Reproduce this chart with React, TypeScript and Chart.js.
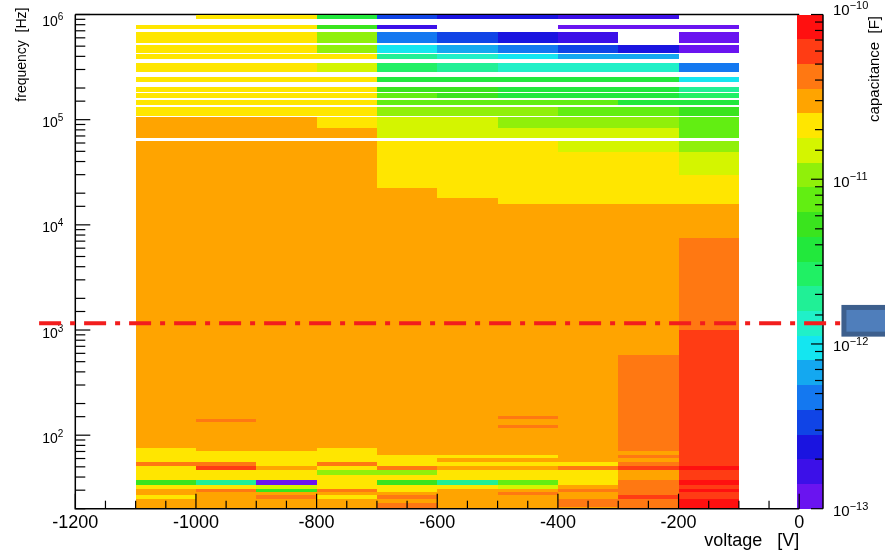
import React, { useEffect, useRef } from 'react';
import { Chart, registerables } from 'chart.js';

Chart.register(...registerables);

const FONT = '"Liberation Sans", Arial, Helvetica, sans-serif';

// ---- data ----
// voltage bin edges [V]
const voltageEdges = [-1100, -1000, -900, -800, -700, -600, -500, -400, -300, -200, -100];

// frequency bins [Hz], listed from top to bottom
const freqHigh = [
  1000000, 800000, 686000, 516000, 418000, 344000, 256000, 206000, 178000, 154000, 131000, 105000, 83400,
  62700, 49600, 29800, 22600, 18100, 15800, 7500, 1000, 580, 152, 143, 134, 125, 117,
  75.5, 70.7, 64.8, 60.7, 55.6, 50.9, 46.7, 41.8, 37.5, 33.6, 30.8, 28.8, 27.0, 24.7, 22.7, 20.8,
];
const freqLow = [
  900000, 730000, 540000, 433000, 375000, 286000, 230000, 185000, 160000, 138000, 108000, 83400, 66600,
  49600, 29800, 22600, 18100, 15800, 7500, 1000, 580, 152, 143, 134, 125, 117, 75.5,
  70.7, 64.8, 60.7, 55.6, 50.9, 46.7, 41.8, 37.5, 33.6, 30.8, 28.8, 27.0, 24.7, 22.7, 20.8, 20,
];

// capacitance [pF] per voltage bin (null = no entry)
const capAtM1050 = [
  null, 21, 21, 21, 21, 21, 21, 21, 21, 21, 21, 30, 30,
  30, 30, 30, 30, 30, 30, 30, 30, 30, 30, 30, 30, 30, 30,
  21, 21, 21, 21, 42, 21, 21, 21, 5.3, 21, 30, 30, 21, 30, 30, 30,
];
const capAtM950 = [
  21, 21, 21, 21, 21, 21, 21, 21, 21, 21, 21, 30, 30,
  30, 30, 30, 30, 30, 30, 30, 30, 30, 30, 42, 30, 30, 30,
  30, 21, 21, 21, 42, 60, 21, 21, 1.9, 21, 42, 30, 30, 30, 30, 30,
];
const capAtM850 = [
  21, 21, 21, 21, 21, 21, 21, 21, 21, 21, 21, 30, 30,
  30, 30, 30, 30, 30, 30, 30, 30, 30, 30, 30, 30, 30, 30,
  30, 21, 21, 21, 21, 30, 21, 21, 0.12, 15, 5.3, 30, 42, 30, 30, 30,
];
const capAtM750 = [
  3.8, 5.3, 10.6, 10.6, 21, 15, 21, 21, 21, 21, 21, 21, 30,
  30, 30, 30, 30, 30, 30, 30, 30, 30, 30, 30, 30, 30, 30,
  21, 21, 21, 21, 42, 21, 10.6, 21, 21, 21, 42, 30, 21, 30, 30, 30,
];
const capAtM650 = [
  0.33, 0.17, 0.47, 0.94, 1.9, 2.7, 3.8, 5.3, 7.5, 7.5, 10.6, 15, 15,
  21, 21, 21, 30, 30, 30, 30, 30, 30, 30, 30, 30, 30, 30,
  30, 30, 21, 21, 21, 42, 10.6, 21, 5.3, 21, 21, 30, 42, 30, 42, 42,
];
const capAtM550 = [
  0.24, null, 0.33, 0.67, 1.33, 1.9, 3.8, 5.3, 5.3, 7.5, 10.6, 15, 15,
  21, 21, 21, 21, 30, 30, 30, 30, 30, 30, 30, 30, 30, 30,
  30, 30, 21, 30, 21, 30, 21, 21, 1.9, 21, 30, 30, 30, 30, 30, 30,
];
const capAtM450 = [
  0.24, null, 0.24, 0.47, 0.94, 1.33, 3.8, 3.8, 3.8, 7.5, 10.6, 10.6, 15,
  21, 21, 21, 21, 21, 30, 30, 30, 30, 42, 30, 30, 42, 30,
  30, 30, 21, 30, 21, 30, 21, 21, 7.5, 15, 30, 42, 30, 30, 30, 30,
];
const capAtM350 = [
  0.17, 0.12, 0.17, 0.33, 0.67, 1.33, 3.8, 3.8, 3.8, 7.5, 7.5, 10.6, 15,
  15, 21, 21, 21, 21, 30, 30, 30, 30, 30, 30, 30, 30, 30,
  30, 30, 30, 30, 21, 42, 21, 21, 21, 30, 42, 30, 30, 42, 42, 30,
];
const capAtM250 = [
  0.17, 0.12, null, 0.24, 0.67, 1.33, 3.8, 3.8, 3.8, 3.8, 7.5, 10.6, 15,
  15, 21, 21, 21, 21, 30, 30, 30, 42, 42, 42, 42, 42, 42,
  42, 30, 42, 30, 42, 60, 30, 30, 42, 42, 42, 42, 60, 42, 42, 42,
];
const capAtM150 = [
  null, 0.12, 0.12, 0.12, null, 0.47, 0.94, 1.9, 2.7, 3.8, 5.3, 7.5, 7.5,
  10.6, 15, 21, 21, 21, 30, 42, 60, 60, 60, 60, 60, 60, 60,
  60, 60, 60, 60, 60, 84, 60, 60, 84, 60, 84, 60, 60, 84, 84, 84,
];
const capColumns = [
  capAtM1050, capAtM950, capAtM850, capAtM750, capAtM650,
  capAtM550, capAtM450, capAtM350, capAtM250, capAtM150,
];

// colour axis
const capMin = 1e-13;
const capMax = 1e-10;
const nContours = 20;
const palette = [
  '#6a14f0', '#3c10e8', '#1a14e0', '#1044e6', '#1478f0', '#14a8f0', '#14e6f0', '#20f0c8', '#20f096', '#20f064',
  '#22e83c', '#3ae41e', '#62ee12', '#90f00a', '#d4f500', '#ffe600', '#ffa400', '#ff7812', '#ff3c14', '#ff1010',
];

// annotation overlay (reference line + box)
const refLineFreq = 1160;
const refLineVolt = [-1260, 75];
const boxVolt = [70, 160];
const boxFreq = [1732, 865];

function colorFor(pF: number) {
  const lg = Math.log10(pF * 1e-12);
  const lo = Math.log10(capMin), hi = Math.log10(capMax);
  let b = Math.floor(((lg - lo) / (hi - lo)) * nContours);
  if (b < 0) b = 0;
  if (b > nContours - 1) b = nContours - 1;
  return palette[b];
}

function isPow10(v: number) {
  const l = Math.log10(v);
  return Math.abs(l - Math.round(l)) < 1e-6;
}

function drawPow(ctx: CanvasRenderingContext2D, exp: string, x: number, yb: number, baseSize: number, expSize: number, rise: number, alignRight: boolean) {
  ctx.font = `${baseSize}px ${FONT}`;
  const wb = ctx.measureText('10').width;
  ctx.font = `${expSize}px ${FONT}`;
  const we = ctx.measureText(exp).width;
  const x0 = alignRight ? x - wb - we : x;
  ctx.textAlign = 'left';
  ctx.textBaseline = 'alphabetic';
  ctx.font = `${baseSize}px ${FONT}`;
  ctx.fillText('10', x0, yb);
  ctx.font = `${expSize}px ${FONT}`;
  ctx.fillText(exp, x0 + wb, yb - rise);
}

const heatPlugin = {
  id: 'heat',
  beforeDatasetsDraw(chart: any) {
    const { ctx, chartArea, scales } = chart;
    const xs = scales.x, ys = scales.y, yc = scales.yc;
    ctx.save();
    // frame top line (painted over by cells)
    ctx.strokeStyle = '#000';
    ctx.lineWidth = 1.5;
    ctx.beginPath();
    ctx.moveTo(chartArea.left, chartArea.top);
    ctx.lineTo(chartArea.right, chartArea.top);
    ctx.stroke();
    // cells
    capColumns.forEach((col, i) => {
      const x0 = Math.round(xs.getPixelForValue(voltageEdges[i]));
      const x1 = Math.round(xs.getPixelForValue(voltageEdges[i + 1]));
      col.forEach((v, j) => {
        if (v == null) return;
        const y0 = Math.round(ys.getPixelForValue(freqHigh[j]));
        const y1 = Math.round(ys.getPixelForValue(freqLow[j]));
        ctx.fillStyle = colorFor(v);
        ctx.fillRect(x0, y0, x1 - x0, y1 - y0);
      });
    });
    // colour bar
    const bx0 = Math.round(yc.left - 2);
    const bx1 = Math.round(yc.left + 24);
    const lo = Math.log10(capMin), hi = Math.log10(capMax);
    for (let k = 0; k < nContours; k++) {
      const v0 = Math.pow(10, lo + ((hi - lo) * k) / nContours);
      const v1 = Math.pow(10, lo + ((hi - lo) * (k + 1)) / nContours);
      const py0 = Math.round(yc.getPixelForValue(v1));
      const py1 = Math.round(yc.getPixelForValue(v0));
      ctx.fillStyle = palette[k];
      ctx.fillRect(bx0, py0, bx1 - bx0, py1 - py0);
    }
    ctx.restore();
  },
  afterDraw(chart: any) {
    const { ctx, chartArea, scales } = chart;
    const xs = scales.x, ys = scales.y, yc = scales.yc;
    ctx.save();
    ctx.strokeStyle = '#000';
    ctx.fillStyle = '#000';
    ctx.lineWidth = 1.5;
    // axis lines
    ctx.beginPath();
    ctx.moveTo(chartArea.left, chartArea.top);
    ctx.lineTo(chartArea.left, chartArea.bottom);
    ctx.lineTo(chartArea.right, chartArea.bottom);
    ctx.stroke();
    // x ticks (inside)
    ctx.lineWidth = 1.2;
    xs.ticks.forEach((t: any) => {
      const px = xs.getPixelForValue(t.value);
      const len = t.value % 200 === 0 ? 15 : 8;
      ctx.beginPath();
      ctx.moveTo(px, chartArea.bottom);
      ctx.lineTo(px, chartArea.bottom - len);
      ctx.stroke();
    });
    // y ticks (inside) + labels
    ys.ticks.forEach((t: any) => {
      const py = ys.getPixelForValue(t.value);
      const major = isPow10(t.value);
      const len = major ? 15 : 10;
      ctx.beginPath();
      ctx.moveTo(chartArea.left, py);
      ctx.lineTo(chartArea.left + len, py);
      ctx.stroke();
      if (major) {
        const e = Math.round(Math.log10(t.value));
        const yb = Math.max(py + 7.6, chartArea.top + 11.5);
        drawPow(ctx, String(e), chartArea.left - 12, yb, 14, 10, 6, true);
      }
    });
    // colour bar axis
    const bx1 = Math.round(yc.left + 24);
    ctx.lineWidth = 1.5;
    ctx.beginPath();
    ctx.moveTo(bx1, yc.top);
    ctx.lineTo(bx1, yc.bottom);
    ctx.stroke();
    ctx.lineWidth = 1.2;
    yc.ticks.forEach((t: any) => {
      const py = yc.getPixelForValue(t.value);
      const major = isPow10(t.value);
      const len = major ? 12 : 8;
      ctx.beginPath();
      ctx.moveTo(bx1, py);
      ctx.lineTo(bx1 - len, py);
      ctx.stroke();
      if (major) {
        const e = Math.round(Math.log10(t.value));
        const yb = Math.abs(py - yc.top) < 1 ? py + 0.5 : py + 7.4;
        drawPow(ctx, String(e).replace('-', '\u2212'), bx1 + 10, yb, 15, 11, 6.5, false);
      }
    });
    // vertical titles
    ctx.textAlign = 'right';
    ctx.textBaseline = 'middle';
    ctx.save();
    ctx.translate(22, 7.5);
    ctx.rotate(-Math.PI / 2);
    ctx.font = `14px ${FONT}`;
    ctx.fillText('frequency  [Hz]', 0, 0);
    ctx.restore();
    ctx.save();
    ctx.translate(875, 16);
    ctx.rotate(-Math.PI / 2);
    ctx.font = `15px ${FONT}`;
    ctx.fillText('capacitance  [F]', 0, 0);
    ctx.restore();
    // overlay: dash-dot reference line
    const ly = ys.getPixelForValue(refLineFreq);
    ctx.strokeStyle = '#f21d1d';
    ctx.lineWidth = 4;
    ctx.setLineDash([22, 9, 5, 9]);
    ctx.beginPath();
    ctx.moveTo(xs.getPixelForValue(refLineVolt[0]), ly);
    ctx.lineTo(xs.getPixelForValue(refLineVolt[1]), ly);
    ctx.stroke();
    ctx.setLineDash([]);
    // overlay box
    const bxa = xs.getPixelForValue(boxVolt[0]);
    const bxb = xs.getPixelForValue(boxVolt[1]);
    const bya = ys.getPixelForValue(boxFreq[0]);
    const byb = ys.getPixelForValue(boxFreq[1]);
    ctx.fillStyle = '#3d5f8d';
    ctx.fillRect(bxa, bya, bxb - bxa, byb - bya);
    ctx.fillStyle = '#4f7ebb';
    ctx.fillRect(bxa + 5, bya + 5, bxb - bxa - 5, byb - bya - 10);
    ctx.restore();
  },
};

export default function App() {
  const ref = useRef<HTMLCanvasElement>(null);
  useEffect(() => {
    document.body.style.margin = '0';
    const chart = new Chart(ref.current as HTMLCanvasElement, {
      type: 'scatter',
      data: { datasets: [] },
      options: {
        animation: false,
        responsive: false,
        events: [],
        layout: { padding: { top: 14.5, left: 0, right: 0, bottom: 0 } },
        plugins: { legend: { display: false }, tooltip: { enabled: false } },
        scales: {
          x: {
            type: 'linear',
            position: 'bottom',
            min: -1200,
            max: 0,
            grid: { display: false, drawTicks: false },
            border: { display: false },
            ticks: {
              stepSize: 50,
              autoSkip: false,
              maxRotation: 0,
              padding: 4,
              color: '#000',
              font: { family: FONT, size: 18 },
              callback: (v: any) => (Number(v) % 200 === 0 ? String(Number(v) || 0) : ''),
            },
            title: {
              display: true,
              text: 'voltage   [V]',
              align: 'end',
              color: '#000',
              font: { family: FONT, size: 18 },
              padding: 0,
            },
            afterFit: (s: any) => { s.height = 43.3; },
          },
          y: {
            type: 'logarithmic',
            position: 'left',
            min: 20,
            max: 1e6,
            grid: { display: false, drawTicks: false },
            border: { display: false },
            ticks: { display: false, autoSkip: false },
            afterFit: (s: any) => { s.width = 75.3; },
          },
          yc: {
            type: 'logarithmic',
            position: 'right',
            min: capMin,
            max: capMax,
            grid: { display: false, drawTicks: false },
            border: { display: false },
            ticks: { display: false, autoSkip: false },
            afterFit: (s: any) => { s.width = 85.8; },
          },
        },
      } as any,
      plugins: [heatPlugin],
    });
    return () => chart.destroy();
  }, []);
  return (
    <div style={{ width: 885, height: 552 }}>
      <canvas ref={ref} width={885} height={552} style={{ display: 'block' }} />
    </div>
  );
}
